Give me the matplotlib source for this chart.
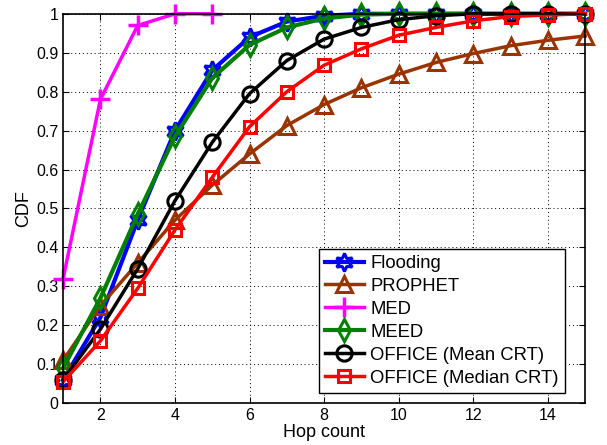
import numpy as np
import matplotlib.pyplot as plt

plt.rcParams['font.family'] = ['Liberation Sans', 'DejaVu Sans']

hops = np.arange(1, 16)

flooding = [0.06, 0.22, 0.47, 0.70, 0.855, 0.94, 0.98, 0.995, 1.0, 1.0, 1.0, 1.0, 1.0, 1.0, 1.0]
prophet = [0.11, 0.25, 0.36, 0.47, 0.56, 0.64, 0.713, 0.767, 0.81, 0.845, 0.875, 0.898, 0.918, 0.932, 0.943]
med_hops = np.arange(1, 6)
med = [0.32, 0.78, 0.97, 1.0, 1.0]
meed = [0.09, 0.27, 0.485, 0.685, 0.835, 0.92, 0.965, 0.988, 0.998, 1.0, 1.0, 1.0, 1.0, 1.0, 1.0]
office_mean = [0.06, 0.19, 0.345, 0.52, 0.67, 0.795, 0.88, 0.935, 0.965, 0.985, 0.995, 1.0, 1.0, 1.0, 1.0]
office_median = [0.055, 0.16, 0.295, 0.445, 0.58, 0.71, 0.80, 0.868, 0.91, 0.945, 0.965, 0.982, 0.993, 0.997, 1.0]

fig = plt.figure(figsize=(6.07, 4.45), dpi=100)
ax = fig.add_axes([0.104, 0.094, 0.860, 0.875])

ax.plot(hops, flooding, color='#0000ff', lw=3, marker=(6, 1, 0), ms=13, mfc='none', mew=2.2,
        label='Flooding', clip_on=False)
ax.plot(hops, prophet, color='#993300', lw=2.5, marker='^', ms=12, mfc='none', mew=2.2,
        label='PROPHET', clip_on=False)
ax.plot(med_hops, med, color='#ff00ff', lw=2.5, marker='+', ms=14, mew=2.5,
        label='MED', clip_on=False)
ax.plot(hops, meed, color='#007f00', lw=3, marker='d', ms=11, mfc='none', mew=2.2,
        label='MEED', clip_on=False)
ax.plot(hops, office_mean, color='black', lw=2.5, marker='o', ms=11, mfc='none', mew=2.2,
        label='OFFICE (Mean CRT)', clip_on=False)
ax.plot(hops, office_median, color='#ff0000', lw=2.5, marker='s', ms=9, mfc='none', mew=2.2,
        label='OFFICE (Median CRT)', clip_on=False)

ax.set_xlim(1, 15)
ax.set_ylim(0, 1)
ax.set_xticks(np.arange(2, 15, 2))
ax.set_yticks(np.arange(0, 1.01, 0.1))
ax.set_yticklabels(['0', '0.1', '0.2', '0.3', '0.4', '0.5', '0.6', '0.7', '0.8', '0.9', '1'])
ax.grid(True, ls=(0, (1, 3)), color='black', lw=0.7)
ax.tick_params(direction='in', top=True, right=True, labelsize=11.5, length=4)
for s in ax.spines.values():
    s.set_linewidth(1.2)
ax.set_xlabel('Hop count', fontsize=13, labelpad=1)
ax.set_ylabel('CDF', fontsize=13, labelpad=3)

leg = ax.legend(loc='lower right', bbox_to_anchor=(0.962, 0.026), borderaxespad=0,
                fontsize=13.3, fancybox=False, edgecolor='black', framealpha=1,
                handlelength=2.1, labelspacing=0.32, handletextpad=0.35, borderpad=0.35)
leg.get_frame().set_linewidth(1.0)

fig.savefig('out.png', dpi=100)
